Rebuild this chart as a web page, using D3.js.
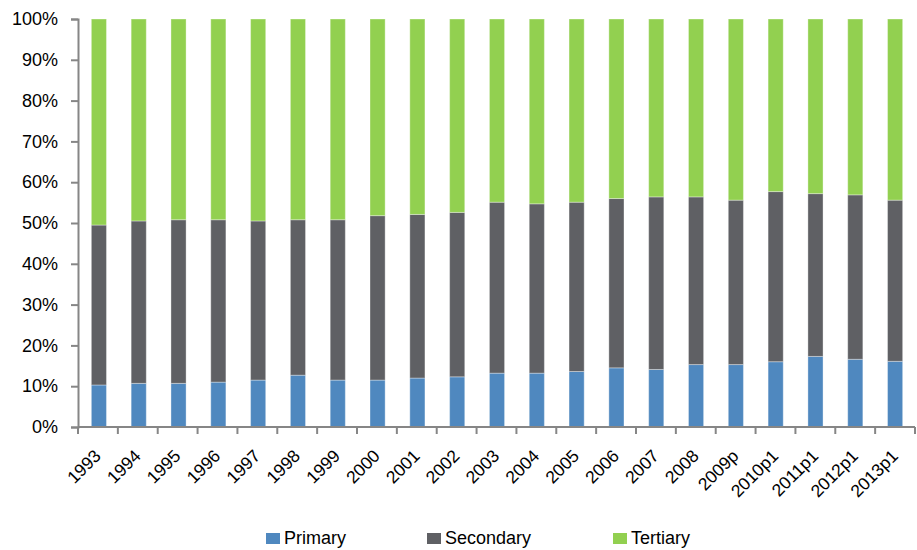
<!DOCTYPE html>
<html>
<head>
<meta charset="utf-8">
<script src="https://cdn.jsdelivr.net/npm/d3@7"></script>
<style>
  body { margin: 0; background: #fff; }
  svg text { font-family: "Liberation Sans", Arial, sans-serif; fill: #000; }
</style>
</head>
<body>
<div id="chart"></div>
<script>
const years = ["1993", "1994", "1995", "1996", "1997", "1998", "1999", "2000", "2001", "2002", "2003",
  "2004", "2005", "2006", "2007", "2008", "2009p", "2010p1", "2011p1", "2012p1", "2013p1"];
const primary = [10.3, 10.7, 10.7, 11.0, 11.5, 12.7, 11.5, 11.5, 12.0, 12.3, 13.2,
  13.2, 13.6, 14.5, 14.1, 15.3, 15.3, 16.0, 17.3, 16.6, 16.1];
const secondary = [39.2, 39.8, 40.1, 39.8, 39.0, 38.1, 39.3, 40.3, 40.1, 40.3, 41.9,
  41.5, 41.5, 41.5, 42.3, 41.1, 40.3, 41.7, 39.9, 40.3, 39.5];
const tertiary = [50.5, 49.5, 49.2, 49.2, 49.5, 49.2, 49.2, 48.2, 47.9, 47.4, 44.9,
  45.3, 44.9, 44.0, 43.6, 43.6, 44.4, 42.3, 42.8, 43.1, 44.4];
const keys = ["Primary", "Secondary", "Tertiary"];
const colors = ["#4f88bf", "#5f6064", "#92d050"];
const yTicks = [0, 10, 20, 30, 40, 50, 60, 70, 80, 90, 100];

const width = 917, height = 550;
const plot = { left: 78, right: 915, top: 19, bottom: 427 };

const data = years.map((y, i) => ({ year: y, Primary: primary[i], Secondary: secondary[i], Tertiary: tertiary[i] }));
const stacked = d3.stack().keys(keys)(data);
const color = d3.scaleOrdinal().domain(keys).range(colors);

const svg = d3.select("#chart").append("svg")
  .attr("width", width)
  .attr("height", height);

const x = d3.scaleBand().domain(years).range([plot.left + 1, plot.right]).paddingInner(0.62).paddingOuter(0.31);
const xCat = d3.scaleBand().domain(years).range([plot.left, plot.right]).padding(0);
const y = d3.scaleLinear().domain([0, 100]).range([plot.bottom, plot.top]);

// bars
svg.append("g")
  .selectAll("g")
  .data(stacked)
  .join("g")
  .attr("fill", (d) => color(d.key))
  .selectAll("rect")
  .data((d) => d)
  .join("rect")
  .attr("x", (d) => x(d.data.year))
  .attr("y", (d) => y(d[1]))
  .attr("width", x.bandwidth())
  .attr("height", (d) => y(d[0]) - y(d[1]))
  .attr("stroke", "#ffffff")
  .attr("stroke-opacity", 0.35)
  .attr("stroke-width", 1);

// y axis
const yAxis = svg.append("g")
  .attr("transform", `translate(${plot.left},0)`)
  .call(d3.axisLeft(y).tickValues(yTicks).tickSize(7).tickPadding(13).tickFormat((d) => d + "%"));
yAxis.select(".domain").attr("stroke", "#868686").attr("stroke-width", 2);
yAxis.selectAll(".tick line").attr("stroke", "#868686").attr("stroke-width", 2);
yAxis.selectAll("text").style("font-size", "18px").attr("fill", "#000");

// x axis
const xAxis = svg.append("g")
  .attr("transform", `translate(0,${plot.bottom})`);
xAxis.append("line")
  .attr("x1", plot.left).attr("x2", plot.right)
  .attr("stroke", "#868686").attr("stroke-width", 2);
xAxis.selectAll(".cat-tick")
  .data(years.concat(["end"]))
  .join("line")
  .attr("class", "cat-tick")
  .attr("x1", (d) => d === "end" ? plot.right : xCat(d))
  .attr("x2", (d) => d === "end" ? plot.right : xCat(d))
  .attr("y1", 0).attr("y2", 7)
  .attr("stroke", "#868686").attr("stroke-width", 2);
xAxis.selectAll(".cat-label")
  .data(years)
  .join("text")
  .attr("class", "cat-label")
  .attr("text-anchor", "end")
  .attr("transform", (d) => `translate(${xCat(d) + xCat.bandwidth() / 2 + 4},30) rotate(-45)`)
  .style("font-size", "17.5px")
  .text((d) => d);

// legend
const legendX = [266, 427, 613];
const legend = svg.append("g")
  .selectAll("g")
  .data(keys)
  .join("g")
  .attr("transform", (d, i) => `translate(${legendX[i]},533)`);
legend.append("rect")
  .attr("width", 14)
  .attr("height", 11)
  .attr("fill", (d) => color(d));
legend.append("text")
  .attr("x", 18)
  .attr("y", 11)
  .style("font-size", "18px")
  .text((d) => d);
</script>
</body>
</html>
